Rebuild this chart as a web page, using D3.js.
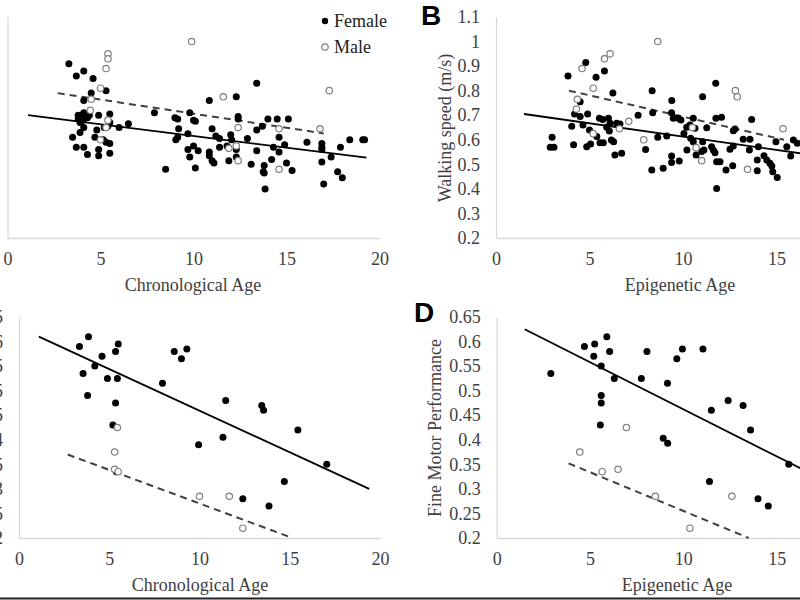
<!DOCTYPE html>
<html>
<head>
<meta charset="utf-8">
<script src="https://cdn.jsdelivr.net/npm/d3@7"></script>
<style>
  html, body { margin: 0; padding: 0; background: #fff; }
  svg { display: block; }
  text { font-family: "Liberation Serif", "Times New Roman", serif; }
</style>
</head>
<body>
<svg id="chart" width="800" height="600"></svg>
<script>
// ---------------- DATA ----------------
const ageTicks = [0, 5, 10, 15, 20];
const walkTicks = [0.2, 0.3, 0.4, 0.5, 0.6, 0.7, 0.8, 0.9, 1.0, 1.1];
const walkTickLabels = ["0.2", "0.3", "0.4", "0.5", "0.6", "0.7", "0.8", "0.9", "1", "1.1"];
const fineTicks = [0.2, 0.25, 0.3, 0.35, 0.4, 0.45, 0.5, 0.55, 0.6, 0.65];
const fineTickLabels = ["0.2", "0.25", "0.3", "0.35", "0.4", "0.45", "0.5", "0.55", "0.6", "0.65"];
const legendLabels = ["Female", "Male"];

// Panel A: walking speed vs chronological age
const chronoWalkFemale = [
  [3.3,0.91],[3.7,0.86],[4.1,0.88],[4.6,0.85],[4.5,0.79],[5.3,0.80],[4.1,0.76],
  [3.8,0.70],[4.0,0.70],[4.1,0.71],[4.3,0.69],[4.4,0.70],[3.8,0.685],[4.05,0.68],
  [4.2,0.69],[4.9,0.70],[5.5,0.705],[5.5,0.67],[3.9,0.67],[4.1,0.65],[4.8,0.64],
  [5.2,0.65],[5.4,0.655],[6.0,0.65],[6.5,0.665],[3.5,0.61],[3.9,0.63],[4.7,0.61],
  [5.15,0.60],[5.3,0.59],[5.5,0.585],[3.7,0.57],[4.1,0.57],[4.3,0.54],[4.9,0.56],
  [4.9,0.535],[5.5,0.545],[7.9,0.71],[9.0,0.69],[9.15,0.685],[9.8,0.71],[10.0,0.68],
  [10.1,0.675],[9.2,0.645],[9.15,0.61],[9.05,0.60],[9.7,0.625],[9.7,0.56],[10.0,0.575],
  [9.8,0.53],[10.1,0.485],[8.5,0.48],[10.85,0.76],[12.3,0.775],[13.4,0.83],[11.0,0.645],
  [11.2,0.615],[11.4,0.605],[12.0,0.62],[12.05,0.60],[12.4,0.695],[12.4,0.685],[12.9,0.605],
  [10.85,0.55],[10.85,0.535],[11.0,0.515],[11.1,0.505],[11.4,0.57],[11.8,0.575],[11.9,0.515],
  [12.3,0.56],[12.3,0.53],[13.1,0.50],[13.4,0.555],[13.4,0.64],[13.7,0.655],[14.0,0.685],
  [14.5,0.685],[15.1,0.685],[14.6,0.61],[14.3,0.57],[14.6,0.55],[14.9,0.58],[13.8,0.495],
  [13.75,0.47],[13.8,0.465],[14.2,0.52],[15.0,0.505],[15.3,0.475],[13.85,0.40],[16.1,0.59],
  [16.9,0.585],[16.9,0.57],[16.9,0.56],[17.4,0.53],[16.9,0.51],[17.0,0.42],[17.9,0.57],
  [18.4,0.60],[17.75,0.47],[18.0,0.445],[19.1,0.60],[19.2,0.60],[10.25,0.555]
];
const chronoWalkMale = [
  [9.9,1.0],[5.4,0.95],[5.4,0.93],[5.3,0.89],[5.0,0.81],[4.5,0.765],[4.45,0.72],
  [5.4,0.68],[5.3,0.65],[5.0,0.60],[11.6,0.775],[12.4,0.65],[12.3,0.575],[11.9,0.565],
  [12.4,0.515],[14.6,0.645],[14.6,0.48],[16.8,0.645],[17.3,0.80]
];
const chronoWalkTrendFemale = [[1.1, 0.70], [19.3, 0.527]];
const chronoWalkTrendMale = [[2.7, 0.79], [17.0, 0.626]];

// Panel B: walking speed vs epigenetic age
const epiWalkFemale = [
  [3.85,0.86],[4.8,0.915],[5.35,0.855],[5.8,0.88],[6.25,0.79],[4.5,0.755],[8.35,0.80],
  [9.4,0.76],[11.75,0.83],[11.05,0.775],[3.0,0.61],[2.9,0.57],[3.1,0.57],[4.05,0.655],
  [4.2,0.705],[4.5,0.695],[4.15,0.58],[4.65,0.66],[4.9,0.705],[5.0,0.64],[4.85,0.572],
  [5.06,0.583],[5.53,0.688],[5.71,0.683],[5.39,0.613],[5.56,0.588],[5.74,0.588],[6.01,0.688],
  [6.1,0.667],[5.92,0.651],[6.06,0.636],[6.17,0.599],[6.29,0.592],[6.45,0.667],[6.63,0.664],
  [6.36,0.538],[6.72,0.545],[7.6,0.70],[8.0,0.56],[8.33,0.477],[8.38,0.71],[8.94,0.484],
  [8.65,0.61],[9.13,0.615],[9.39,0.71],[9.39,0.534],[9.39,0.507],[9.48,0.688],[9.75,0.688],
  [9.8,0.514],[9.89,0.681],[10.05,0.626],[10.2,0.651],[10.37,0.66],[10.21,0.558],[10.41,0.606],
  [10.55,0.592],[10.55,0.688],[10.64,0.647],[10.7,0.538],[11.0,0.552],[11.12,0.558],[11.05,0.592],
  [11.27,0.649],[11.53,0.572],[11.62,0.558],[11.71,0.547],[11.8,0.511],[11.98,0.511],[11.76,0.688],
  [12.06,0.692],[11.8,0.402],[12.3,0.477],[12.51,0.561],[12.69,0.575],[12.69,0.637],[12.78,0.644],
  [12.66,0.494],[13.22,0.602],[13.67,0.683],[13.58,0.602],[13.55,0.558],[14.03,0.572],[13.97,0.518],
  [13.97,0.474],[14.33,0.535],[14.48,0.518],[14.65,0.504],[14.75,0.493],[14.8,0.47],[15.04,0.446],
  [14.97,0.592],[15.55,0.572],[15.76,0.534],[15.9,0.599],[16.11,0.586],[16.6,0.57],[17.2,0.62]
];
const epiWalkMale = [
  [8.65,1.0],[4.6,0.89],[5.8,0.93],[6.1,0.95],[5.2,0.81],[4.35,0.765],[4.3,0.725],
  [6.6,0.645],[7.1,0.675],[7.9,0.60],[5.2,0.625],[10.5,0.65],[10.7,0.568],[11.0,0.515],
  [12.8,0.80],[12.9,0.775],[13.45,0.48],[15.35,0.645]
];
const epiWalkTrendFemale = [[1.5, 0.705], [19.5, 0.51]];
const epiWalkTrendMale = [[3.9, 0.80], [15.4, 0.60]];

// Panel C: fine motor performance vs chronological age
const chronoFineFemale = [
  [3.35,0.59],[3.85,0.61],[3.55,0.535],[3.8,0.49],[4.2,0.55],[4.6,0.57],[4.9,0.525],
  [5.35,0.58],[5.5,0.595],[5.45,0.525],[5.35,0.475],[5.2,0.43],[5.4,0.335],[7.95,0.515],
  [8.6,0.58],[9.0,0.565],[9.3,0.585],[9.95,0.39],[11.3,0.405],[11.45,0.48],[13.45,0.47],
  [13.55,0.46],[15.45,0.42],[17.05,0.35],[14.7,0.315],[12.4,0.28],[13.85,0.265]
];
const chronoFineMale = [
  [5.45,0.425],[5.3,0.375],[5.3,0.34],[5.5,0.335],[10.0,0.285],[11.65,0.285],[12.4,0.22]
];
const chronoFineTrendFemale = [[1.1, 0.61], [19.4, 0.30]];
const chronoFineTrendMale = [[2.7, 0.37], [15.15, 0.20]];

// Panel D: fine motor performance vs epigenetic age
const epiFineFemale = [
  [2.9,0.535],[4.7,0.59],[5.25,0.595],[5.2,0.57],[5.9,0.61],[5.6,0.55],[6.05,0.58],
  [6.3,0.525],[5.6,0.49],[5.6,0.475],[5.55,0.43],[7.75,0.525],[8.05,0.58],[9.15,0.515],
  [9.65,0.565],[9.95,0.585],[8.92,0.403],[9.16,0.393],[11.05,0.585],[11.5,0.46],[12.4,0.48],
  [13.2,0.47],[13.6,0.42],[11.4,0.315],[14.0,0.28],[14.55,0.265],[15.65,0.35]
];
const epiFineMale = [
  [4.45,0.375],[5.65,0.335],[6.5,0.34],[6.95,0.425],[8.5,0.285],[10.35,0.22],[12.6,0.285]
];
const epiFineTrendFemale = [[1.5, 0.625], [19.5, 0.28]];
const epiFineTrendMale = [[3.85, 0.352], [13.5, 0.20]];

// ---------------- DRAWING ----------------
const svg = d3.select("#chart");
const TEXT = "#404040";
const AXIS = "#d9d9d9";
const FS = 18;

function drawPanel(p) {
  const g = svg.append("g");
  const x = d3.scaleLinear().domain([0, 20]).range([p.x0, p.x1]);
  const y = d3.scaleLinear().domain(p.yDomain).range([p.yb, p.yt]);

  // axes
  const xAxis = d3.axisBottom(x).tickValues(ageTicks).tickSize(0).tickSizeOuter(0).tickPadding(14)
    .tickFormat(d3.format("d"));
  const gx = g.append("g").attr("transform", `translate(0,${p.yb})`).call(xAxis);
  const yAxis = d3.axisLeft(y).tickValues(p.yTicks).tickSize(0).tickSizeOuter(0).tickPadding(16)
    .tickFormat((d, i) => p.yLabels[i]);
  const gy = g.append("g").attr("transform", `translate(${p.x0},0)`).call(yAxis);
  [gx, gy].forEach(a => {
    a.select(".domain").attr("stroke", AXIS).attr("stroke-width", 1.3);
    a.selectAll("text").attr("fill", TEXT).style("font-size", FS + "px")
      .style("font-family", '"Liberation Serif", "Times New Roman", serif');
  });

  // titles
  g.append("text").attr("x", p.xTitleX).attr("y", p.yb + 53)
    .attr("text-anchor", "middle").attr("fill", TEXT).style("font-size", FS + "px")
    .text(p.xTitle);
  if (p.yTitle) {
    g.append("text")
      .attr("transform", `translate(${p.yTitleX},${p.yTitleY}) rotate(-90)`)
      .attr("dy", "0.35em").attr("text-anchor", "middle").attr("fill", TEXT)
      .style("font-size", FS + "px").text(p.yTitle);
  }
  if (p.letter) {
    g.append("text").attr("x", p.letterX).attr("y", p.letterY)
      .style("font-family", '"Liberation Sans", Arial, sans-serif')
      .style("font-weight", "bold").style("font-size", "28px").attr("fill", "#000")
      .text(p.letter);
  }

  const line = d3.line().x(d => x(d[0])).y(d => y(d[1]));
  // trend lines
  g.append("path").datum(p.trendM).attr("d", line).attr("fill", "none")
    .attr("stroke", "#404040").attr("stroke-width", 2).attr("stroke-dasharray", "7,5");
  g.append("path").datum(p.trendF).attr("d", line).attr("fill", "none")
    .attr("stroke", "#000").attr("stroke-width", 1.8);

  // points
  g.append("g").selectAll("circle").data(p.female).join("circle")
    .attr("cx", d => x(d[0])).attr("cy", d => y(d[1])).attr("r", 3.5)
    .attr("fill", "#000");
  g.append("g").selectAll("circle").data(p.male).join("circle")
    .attr("cx", d => x(d[0])).attr("cy", d => y(d[1])).attr("r", 3.2)
    .attr("fill", "#fff").attr("stroke", "#7f7f7f").attr("stroke-width", 1.2);
}

drawPanel({
  x0: 7.5, x1: 379.5, yb: 238, yt: 17, yDomain: [0.2, 1.1],
  yTicks: walkTicks, yLabels: walkTickLabels,
  xTitle: "Chronological Age", xTitleX: 193,
  female: chronoWalkFemale, male: chronoWalkMale,
  trendF: chronoWalkTrendFemale, trendM: chronoWalkTrendMale
});
drawPanel({
  x0: 496, x1: 870, yb: 238, yt: 17, yDomain: [0.2, 1.1],
  yTicks: walkTicks, yLabels: walkTickLabels,
  xTitle: "Epigenetic Age", xTitleX: 680,
  yTitle: "Walking speed (m/s)", yTitleX: 445, yTitleY: 128,
  letter: "B", letterX: 421, letterY: 25,
  female: epiWalkFemale, male: epiWalkMale,
  trendF: epiWalkTrendFemale, trendM: epiWalkTrendMale
});
drawPanel({
  x0: 19, x1: 380, yb: 538, yt: 317, yDomain: [0.2, 0.65],
  yTicks: fineTicks, yLabels: fineTickLabels,
  xTitle: "Chronological Age", xTitleX: 200,
  female: chronoFineFemale, male: chronoFineMale,
  trendF: chronoFineTrendFemale, trendM: chronoFineTrendMale
});
drawPanel({
  x0: 496.7, x1: 870, yb: 538, yt: 317, yDomain: [0.2, 0.65],
  yTicks: fineTicks, yLabels: fineTickLabels,
  xTitle: "Epigenetic Age", xTitleX: 677,
  yTitle: "Fine Motor Performance", yTitleX: 435, yTitleY: 428,
  letter: "D", letterX: 414, letterY: 322,
  female: epiFineFemale, male: epiFineMale,
  trendF: epiFineTrendFemale, trendM: epiFineTrendMale
});

// legend (panel A)
const legend = svg.append("g");
legend.selectAll("circle").data(legendLabels).join("circle")
  .attr("cx", 325).attr("cy", (d, i) => 21 + i * 26).attr("r", 3.2)
  .attr("fill", (d, i) => i === 0 ? "#000" : "#fff")
  .attr("stroke", (d, i) => i === 0 ? "none" : "#7f7f7f").attr("stroke-width", 1.2);
legend.selectAll("text").data(legendLabels).join("text")
  .attr("x", 334).attr("y", (d, i) => 27 + i * 26)
  .attr("fill", "#222").style("font-size", FS + "px").text(d => d);

// bottom frame edge
svg.append("line").attr("x1", 0).attr("x2", 800).attr("y1", 598.5).attr("y2", 598.5)
  .attr("stroke", "#222").attr("stroke-width", 2);
</script>
</body>
</html>
